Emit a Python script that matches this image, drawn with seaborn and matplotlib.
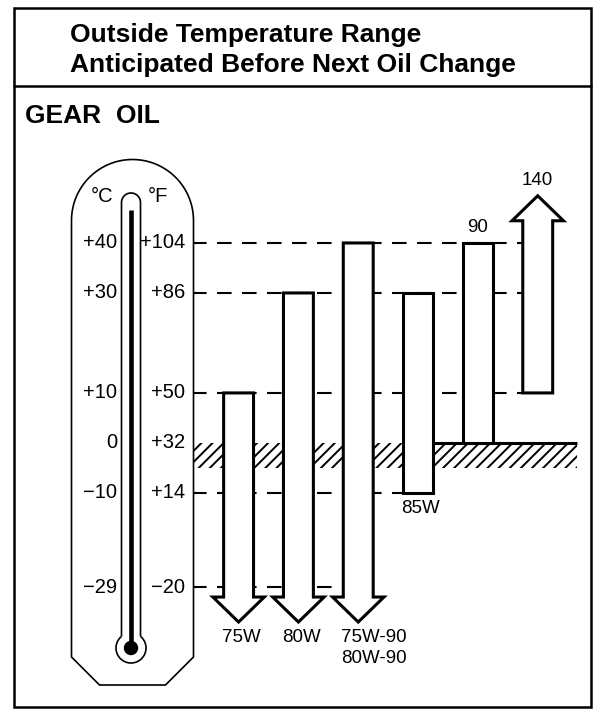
import numpy as np
import pandas as pd
import matplotlib
matplotlib.use("Agg")
import matplotlib.pyplot as plt
from matplotlib.patches import Polygon, Rectangle, Circle, Arc, PathPatch
from matplotlib.path import Path
from matplotlib.transforms import blended_transform_factory
import seaborn as sns

# Gear oil grades and the outside temperature range (°F) each one covers
grades = ["75W", "80W", "75W-90\n80W-90", "85W", "90", "140"]
low_f = [-20, -20, -20, 14, 32, 50]
high_f = [50, 86, 104, 86, 104, 104]
open_below = [True, True, True, False, False, False]
open_above = [False, False, False, False, False, True]
label_on_top = [False, False, False, False, True, True]

# Thermometer scale marks
scale_f = [104, 86, 50, 32, 14, -20]
scale_f_labels = ["+104", "+86", "+50", "+32", "+14", "\u221220"]
scale_c_labels = ["+40", "+30", "+10", "0", "\u221210", "\u221229"]
freezing_f = 32

title_lines = ["Outside Temperature Range", "Anticipated Before Next Oil Change"]
section_label = "GEAR  OIL"

df = pd.DataFrame({
    "grade": grades,
    "pos": np.arange(len(grades)),
    "low": low_f,
    "high": high_f,
    "open_below": open_below,
    "open_above": open_above,
    "on_top": label_on_top,
})
df["height"] = df["high"] - df["low"]

sns.set_theme(style="white")
plt.rcParams["font.family"] = ["Liberation Sans", "DejaVu Sans"]
plt.rcParams["hatch.linewidth"] = 1.4

W, H = 596, 711
fig = plt.figure(figsize=(W / 100, H / 100), dpi=100)
fig.patch.set_facecolor("white")

# chart axes: x = grade position, y = temperature in °F
ax = fig.add_axes([0, 0, 1, 1])
XLIM = (-3.988, 5.974)
YLIM = (-64.54, 191.5)
# overlay in pixel units for the frame and the thermometer
deco = fig.add_axes([0, 0, 1, 1], zorder=2)
deco.patch.set_visible(False)
deco.set_xlim(0, W)
deco.set_ylim(H, 0)
deco.set_axis_off()

BAR_W = 0.25        # half-width of a bar
HEAD_W = 0.43       # half-width of an arrow head
HEAD_LEN = 9.0      # arrow head length, °F
EXT_BELOW = 3.5
EXT_ABOVE = 8.0
LW_BAR = 2.2
INK = "black"
FS_LABEL = 13.5
FS_SCALE = 14.5

ax.set_xlim(*XLIM)
ax.set_ylim(*YLIM)


def px_to_x(px):
    disp = deco.transData.transform((px, 0))
    return ax.transData.inverted().transform(disp)[0]


# closed temperature ranges: plain floating bars
closed = df[~df["open_below"] & ~df["open_above"]]
sns.barplot(data=closed, x="pos", y="height", native_scale=True, width=0.5,
            bottom=closed["low"].to_numpy(), color="white", edgecolor=INK,
            linewidth=LW_BAR, errorbar=None, ax=ax, zorder=3)

# open-ended ranges: arrows
for _, r in df[df["open_below"] | df["open_above"]].iterrows():
    x = r["pos"]
    if r["open_below"]:
        s = r["low"] - EXT_BELOW
        pts = [(x - BAR_W, r["high"]), (x + BAR_W, r["high"]), (x + BAR_W, s),
               (x + HEAD_W, s), (x, s - HEAD_LEN), (x - HEAD_W, s), (x - BAR_W, s)]
    else:
        s = r["high"] + EXT_ABOVE
        pts = [(x - BAR_W, r["low"]), (x + BAR_W, r["low"]), (x + BAR_W, s),
               (x + HEAD_W, s), (x, s + HEAD_LEN), (x - HEAD_W, s), (x - BAR_W, s)]
    ax.add_patch(Polygon(pts, closed=True, facecolor="white", edgecolor=INK,
                         lw=LW_BAR, joinstyle="miter", zorder=3))

# grade labels
for _, r in df.iterrows():
    x = r["pos"]
    if r["on_top"]:
        top = r["high"] + (EXT_ABOVE + HEAD_LEN if r["open_above"] else 0)
        ax.text(x, top + 4.0, r["grade"], ha="center", va="baseline",
                fontsize=FS_LABEL, color=INK, zorder=4)
    else:
        bot = r["low"] - (EXT_BELOW + HEAD_LEN if r["open_below"] else 0)
        ax.text(x - 0.28, bot - 2.5, r["grade"], ha="left", va="top",
                fontsize=FS_LABEL, color=INK, linespacing=1.3, zorder=4)

# dashed guide lines from the thermometer to the bars
x_start = px_to_x(192)
x_end_band = px_to_x(577)


def covers(r, level):
    lo_ok = r["open_below"] or r["low"] <= level
    hi_ok = r["open_above"] or r["high"] >= level
    return lo_ok and hi_ok


for level in scale_f:
    if level == freezing_f:
        continue
    hits = [r["pos"] for _, r in df.iterrows() if covers(r, level)]
    ax.hlines(level, x_start, max(hits) - BAR_W, colors=INK, lw=1.5,
              linestyles=(0, (7, 5)), zorder=2)

# freezing band
band_depth = 9.0
ax.add_patch(Rectangle((x_start, freezing_f - band_depth), x_end_band - x_start,
                       band_depth, facecolor="white", edgecolor=INK, lw=0,
                       hatch="///", zorder=1))
crossing = [r["pos"] for _, r in df.iterrows()
            if covers(r, freezing_f) and r["low"] < freezing_f]
ax.hlines(freezing_f, max(crossing) + BAR_W, x_end_band, colors=INK,
          lw=LW_BAR, zorder=2)

ax.set_xlim(*XLIM)
ax.set_ylim(*YLIM)
ax.set_axis_off()

# frame and header
deco.add_patch(Rectangle((14, 8), 577, 699, fill=False, edgecolor=INK, lw=1.8))
deco.plot([14, 591], [86, 86], color=INK, lw=1.8)
deco.text(70, 42, title_lines[0], fontsize=19, fontweight="bold", va="baseline", color=INK)
deco.text(70, 72, title_lines[1], fontsize=19, fontweight="bold", va="baseline", color=INK)
deco.text(25, 123, section_label, fontsize=19, fontweight="bold", va="baseline", color=INK)

# thermometer body
cx, half, arch_cy = 132.5, 61.0, 220.5
theta = np.linspace(np.pi, 0, 60)
body = [(cx + half * np.cos(t), arch_cy - half * np.sin(t)) for t in theta]
body += [(cx + half, 657), (cx + 33, 685), (cx - 33, 685), (cx - half, 657)]
deco.add_patch(Polygon(body, closed=True, facecolor="white", edgecolor=INK, lw=1.2))

# capillary tube and bulb
tcx, tr, tube_top = 131.0, 9.5, 202.5
bulb_y, bulb_r = 648.0, 15.0
join_y = bulb_y - np.sqrt(bulb_r ** 2 - tr ** 2)
th2 = np.linspace(np.pi, 0, 30)
tube = [(tcx - tr, join_y), (tcx - tr, tube_top)]
tube += [(tcx + tr * np.cos(t), tube_top - tr * np.sin(t)) for t in th2]
tube += [(tcx + tr, join_y)]
deco.add_patch(PathPatch(Path(tube), fill=False, edgecolor=INK, lw=1.2))
gap = np.degrees(np.arcsin(tr / bulb_r))
deco.add_patch(Arc((tcx, bulb_y), 2 * bulb_r, 2 * bulb_r, theta1=-90 + gap,
                   theta2=270 - gap, edgecolor=INK, lw=1.2))
deco.plot([tcx, tcx], [210, bulb_y], color=INK, lw=3.3, solid_capstyle="butt")
deco.add_patch(Circle((tcx, bulb_y), 6.5, color=INK))

deco.text(102, 197, "\u00b0C", fontsize=FS_SCALE, ha="center", va="center", color=INK)
deco.text(158, 197, "\u00b0F", fontsize=FS_SCALE, ha="center", va="center", color=INK)

# scale labels at the temperatures they mark
trans = blended_transform_factory(deco.transData, ax.transData)
for f, fl, cl in zip(scale_f, scale_f_labels, scale_c_labels):
    deco.text(117, f, cl, transform=trans, ha="right", va="center",
              fontsize=FS_SCALE, color=INK)
    deco.text(185, f, fl, transform=trans, ha="right", va="center",
              fontsize=FS_SCALE, color=INK)

fig.savefig("out.png", dpi=100, facecolor="white")
